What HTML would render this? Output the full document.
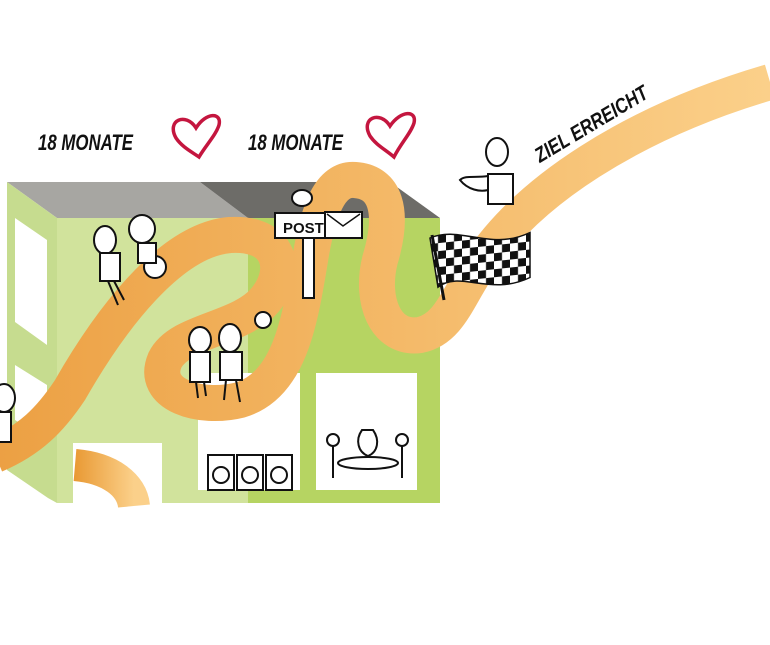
<!DOCTYPE html>
<html><head><meta charset="utf-8"><style>
html,body{margin:0;padding:0;background:#fff;width:770px;height:645px;overflow:hidden}
svg{display:block}
.t{font-family:"Liberation Sans Narrow","Liberation Sans",sans-serif;font-weight:bold;font-style:italic;fill:#111}
</style></head><body>
<svg width="770" height="645" viewBox="0 0 770 645" xmlns="http://www.w3.org/2000/svg">
<defs>
<linearGradient id="rg" x1="0" y1="0" x2="1" y2="0">
<stop offset="0" stop-color="#eca043"/><stop offset="1" stop-color="#fbd08a"/></linearGradient>
<linearGradient id="rg3" x1="0" y1="0" x2="1" y2="0">
<stop offset="0" stop-color="#e99a35"/><stop offset="1" stop-color="#fbd08a"/></linearGradient>
<pattern id="chk" width="16" height="16" patternUnits="userSpaceOnUse"><rect width="16" height="16" fill="#fff"/><rect width="8" height="8" fill="#111"/><rect x="8" y="8" width="8" height="8" fill="#111"/></pattern>
</defs>

<text class="t" x="38" y="150" font-size="22" textLength="95" lengthAdjust="spacingAndGlyphs">18 MONATE</text>
<text class="t" x="248" y="150" font-size="22" textLength="95" lengthAdjust="spacingAndGlyphs">18 MONATE</text>
<path d="M196 128 C186 112,166 120,176 138 C182 147,192 152,199 157 C206 145,216 135,219 125 C222 112,206 112,196 128Z" fill="none" stroke="#c4163f" stroke-width="3.5"/>
<path d="M390 126 C380 110,360 118,370 136 C376 145,386 150,394 157 C401 143,411 133,414 123 C417 110,401 110,390 126Z" fill="none" stroke="#c4163f" stroke-width="3.5"/>
<text class="t" font-size="21" transform="translate(540,163) rotate(-31)" textLength="128" lengthAdjust="spacingAndGlyphs">ZIEL ERREICHT</text>

<polygon points="7,182 200,182 248,218 57,218" fill="#a7a6a2"/>
<polygon points="200,182 390,182 440,218 248,218" fill="#6d6c68"/>
<polygon points="7,182 57,218 57,503 48,498 7,470" fill="#c6dc8f"/>
<polygon points="15,218 47,240 47,345 15,322" fill="#fff"/>
<polygon points="15,365 47,385 47,440 15,420" fill="#fff"/>
<rect x="57" y="218" width="191" height="285" fill="#d1e39c"/>
<rect x="248" y="218" width="192" height="285" fill="#b6d462"/>
<rect x="73" y="443" width="89" height="62" fill="#fff"/>
<rect x="198" y="373" width="102" height="117" fill="#fff"/>
<rect x="316" y="373" width="101" height="117" fill="#fff"/>

<path d="M-5 455 C30 440,50 420,70 390 C110 320,170 240,230 235 C280 232,290 270,265 300 C240 330,180 330,165 360 C150 395,200 410,240 400 C290 385,300 320,310 260 C318 210,330 178,355 180 C385 182,395 210,380 260 C370 300,385 340,420 335 C445 330,455 305,470 280 C520 190,640 120,770 82" fill="none" stroke="url(#rg)" stroke-width="36"/>
<path d="M75 465 C110 468,132 485,134 506" fill="none" stroke="url(#rg3)" stroke-width="32"/>

<rect x="303" y="238" width="11" height="60" fill="#fff" stroke="#111" stroke-width="2"/>
<rect x="275" y="213" width="50" height="25" fill="#fff" stroke="#111" stroke-width="2"/>
<text x="283" y="233" font-family="Liberation Sans" font-weight="bold" font-size="15" fill="#111">POST</text>
<rect x="325" y="212" width="37" height="26" fill="#fff" stroke="#111" stroke-width="2"/>
<path d="M327 214 L343 226 L360 214" fill="none" stroke="#111" stroke-width="1.5"/>
<ellipse cx="302" cy="198" rx="10" ry="8" fill="#fff" stroke="#111" stroke-width="2"/>

<g transform="translate(430,228) skewY(-6)">
<path d="M0 10 C30 0,60 30,100 15 L100 60 C60 75,30 45,8 60Z" fill="url(#chk)" stroke="#111" stroke-width="1.5"/>
</g>
<line x1="432" y1="235" x2="444" y2="300" stroke="#111" stroke-width="3"/>

<g fill="#fff" stroke="#111" stroke-width="2">
<ellipse cx="105" cy="240" rx="11" ry="14"/><rect x="100" y="253" width="20" height="28"/>
<line x1="108" y1="281" x2="118" y2="305"/><line x1="114" y1="281" x2="124" y2="300"/>
<ellipse cx="142" cy="229" rx="13" ry="14"/><circle cx="155" cy="267" r="11"/><rect x="138" y="243" width="18" height="20"/>
<ellipse cx="200" cy="340" rx="11" ry="13"/><rect x="190" y="352" width="20" height="30"/><line x1="196" y1="382" x2="198" y2="398"/><line x1="204" y1="382" x2="206" y2="396"/>
<ellipse cx="230" cy="338" rx="11" ry="14"/><rect x="220" y="352" width="22" height="28"/><line x1="226" y1="380" x2="224" y2="400"/><line x1="236" y1="380" x2="240" y2="402"/>
<circle cx="263" cy="320" r="8"/>
<ellipse cx="4" cy="398" rx="11" ry="14"/><rect x="-4" y="412" width="15" height="30"/>
<ellipse cx="497" cy="152" rx="11" ry="14"/><rect x="488" y="174" width="25" height="30"/>
<path d="M488 176 C475 178,465 175,460 180 C468 190,480 192,488 190Z"/>
<rect x="208" y="455" width="26" height="35"/><circle cx="221" cy="475" r="8"/>
<rect x="237" y="455" width="26" height="35"/><circle cx="250" cy="475" r="8"/>
<rect x="266" y="455" width="26" height="35"/><circle cx="279" cy="475" r="8"/>
<ellipse cx="368" cy="463" rx="30" ry="6"/>
<path d="M362 430 C355 440,358 452,368 456 C378 452,380 440,373 430Z"/>
<circle cx="333" cy="440" r="6"/><circle cx="402" cy="440" r="6"/>
<line x1="333" y1="446" x2="333" y2="478"/><line x1="402" y1="446" x2="402" y2="478"/>
</g>
</svg>
</body></html>
